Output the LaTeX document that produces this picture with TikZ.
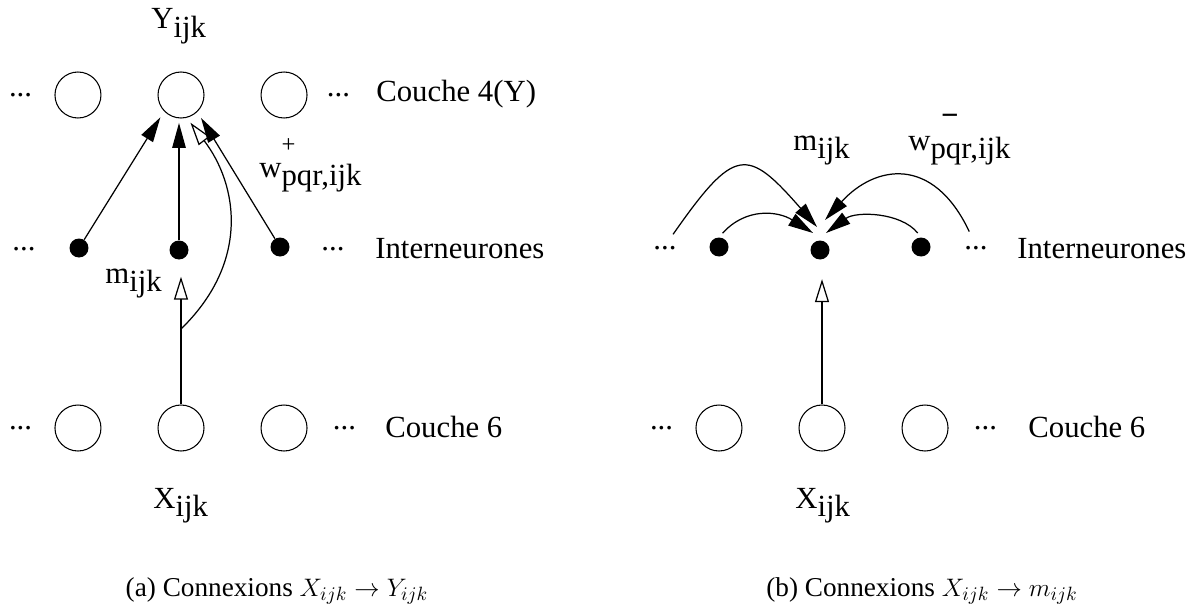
\documentclass[tikz,border=0pt]{standalone}
\usepackage{fontspec}
\setmainfont{Liberation Serif}
\usetikzlibrary{arrows.meta,positioning,calc}
\newcommand{\lowsub}[1]{\raisebox{-.6ex}{#1}}

\begin{document}
\begin{tikzpicture}[x=0.02cm,y=-0.02cm,
unit/.style={circle,draw,line width=0.6pt,minimum size=0.92cm,inner sep=0pt},
inter/.style={circle,fill=black,minimum size=0.38cm,inner sep=0pt},
dots/.style={inner sep=0pt},
lbl/.style={inner sep=0pt,anchor=base west,font=\fontsize{17.5}{20}\selectfont},
capt/.style={inner sep=0pt,anchor=base,font=\fontsize{15.5}{18}\selectfont},
arr/.style={line width=0.7pt,-{Triangle[length=0.5cm,width=0.27cm]}},
oarr/.style={line width=0.7pt,-{Triangle[open,length=0.46cm,width=0.28cm]}},
node distance=11.2mm,font=\fontsize{17.5}{20}\selectfont]
\useasboundingbox (0,0) rectangle (1202,608);

% (a) X -> Y
\node[unit] (y2) at (181,95) {};
\node[unit,left=of y2] (y1) {};
\node[unit,right=of y2] (y3) {};
\node[dots,left=4.4mm of y1] (ydl) {...};
\node[dots,right=3.8mm of y3] (ydr) {...};
\node[lbl] (ylab) at (376,101) {Couche 4(Y)};
\node[lbl] (yname) at (151,29) {Y\lowsub{ijk}};

\node[inter] (a1) at (79,248) {};
\node[inter] (a2) at (179,250) {};
\node[inter] (a3) at (280,247) {};
\node[dots] (adl) at (24,249) {...};
\node[dots] (adr) at (333,249) {...};
\node[lbl] (alab) at (375,258) {Interneurones};

\node[unit] (x2) at (181,428) {};
\node[unit,left=of x2] (x1) {};
\node[unit,right=of x2] (x3) {};
\node[dots,left=4.4mm of x1] (xdl) {...};
\node[dots,right=5mm of x3] (xdr) {...};
\node[lbl] (xlab) at (385,437) {Couche 6};
\node[lbl] (xname) at (153,508) {X\lowsub{ijk}};

\draw[arr,shorten >=4pt] (a1) -- (y2.-136);
\draw[arr,shorten >=2.5pt] (a2) -- (a2 |- y2.south);
\draw[arr,shorten >=4pt] (a3) -- (y2.-46);
\draw[oarr,shorten >=9.6pt] (x2.north) -- (x2.north |- a2.south);
\coordinate (split) at (181,329);
\draw[oarr,shorten >=3.5pt] (split) .. controls (250,262) and (238,185) .. (y2.-76);
\node[lbl] (mlab) at (105,283) {m\lowsub{ijk}};
\node[lbl] (wlab) at (259,177) {w\rlap{\raisebox{.8em}{\fontsize{14}{14}\selectfont +}}\lowsub{pqr,ijk}};

\node[capt] (capa) at (277,596) {(a) Connexions $X_{ijk}\rightarrow Y_{ijk}$};

% (b) X -> m
\node[inter] (b2) at (820,250) {};
\node[inter] (b1) at (719,247) {};
\node[inter] (b3) at (921,247) {};
\node[dots] (bdl) at (665,248) {...};
\node[dots] (bdr) at (976,248) {...};
\node[lbl] (blab) at (1017,258) {Interneurones};

\node[unit] (u2) at (822,428) {};
\node[unit,left=of u2] (u1) {};
\node[unit,right=of u2] (u3) {};
\node[dots,left=4.4mm of u1] (udl) {...};
\node[dots,right=5mm of u3] (udr) {...};
\node[lbl] (ulab) at (1028,437) {Couche 6};
\node[lbl] (uname) at (795,508) {X\lowsub{ijk}};

\coordinate (tol) at ($(b2)+(-3,-23)$);
\coordinate (til) at ($(b2)+(-7,-17)$);
\coordinate (tor) at ($(b2)+(5,-30)$);
\coordinate (tir) at ($(b2)+(6,-17)$);
\draw[arr,shorten <=8pt] (bdl.north) .. controls +(70,-100) and +(-70,-80) .. (tol);
\draw[arr,shorten <=3pt] (b1.north) .. controls +(27,-30) and +(-35,-22) .. (til);
\draw[arr,shorten <=9pt] (bdr.north) .. controls +(-43,-91) and +(50,-55) .. (tor);
\draw[arr,shorten <=3pt] (b3.north) .. controls +(-20,-25) and +(30,-22) .. (tir);
\draw[oarr,shorten >=11pt] (u2.north) -- (u2.north |- b2.south);
\node[lbl] (mlab2) at (793,150) {m\lowsub{ijk}};
\node[lbl] (wlab2) at (908,150) {w\rlap{\kern6pt\raisebox{.8em}{\textbf{−}}}\lowsub{pqr,ijk}};

\node[capt] (capb) at (922,596) {(b) Connexions $X_{ijk}\rightarrow m_{ijk}$};
\end{tikzpicture}
\end{document}
